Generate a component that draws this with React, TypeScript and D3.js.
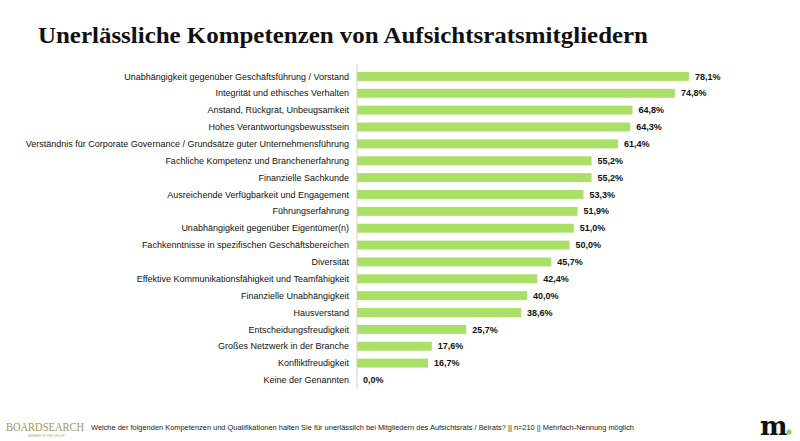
import React from "react";
import * as d3 from "d3";

const categories = [
  "Unabhängigkeit gegenüber Geschäftsführung / Vorstand",
  "Integrität und ethisches Verhalten",
  "Anstand, Rückgrat, Unbeugsamkeit",
  "Hohes Verantwortungsbewusstsein",
  "Verständnis für Corporate Governance / Grundsätze guter Unternehmensführung",
  "Fachliche Kompetenz und Branchenerfahrung",
  "Finanzielle Sachkunde",
  "Ausreichende Verfügbarkeit und Engagement",
  "Führungserfahrung",
  "Unabhängigkeit gegenüber Eigentümer(n)",
  "Fachkenntnisse in spezifischen Geschäftsbereichen",
  "Diversität",
  "Effektive Kommunikationsfähigkeit und Teamfähigkeit",
  "Finanzielle Unabhängigkeit",
  "Hausverstand",
  "Entscheidungsfreudigkeit",
  "Großes Netzwerk in der Branche",
  "Konfliktfreudigkeit",
  "Keine der Genannten",
];
const values = [78.1, 74.8, 64.8, 64.3, 61.4, 55.2, 55.2, 53.3, 51.9, 51.0, 50.0, 45.7, 42.4, 40.0, 38.6, 25.7, 17.6, 16.7, 0.0];

const title = "Unerlässliche Kompetenzen von Aufsichtsratsmitgliedern";
const footnote =
  "Welche der folgenden Kompetenzen und Qualifikationen halten Sie für unerlässlich bei Mitgliedern des Aufsichtsrats / Beirats? || n=210 || Mehrfach-Nennung möglich";

export default function App() {
  const W = 800, H = 441;
  const x0 = 357;
  const x = d3.scaleLinear().domain([0, 100]).range([x0, x0 + 425]);
  const y = d3.scaleBand<string>().domain(categories).range([68, 388.4]).paddingInner(0.47).paddingOuter(0.235);
  const fmt = (v: number) => v.toFixed(1).replace(".", ",") + "%";
  return (
    <svg width={W} height={H} style={{ position: "absolute", left: 0, top: 0, background: "#fff" }}>
      <rect width={W} height={H} fill="#fff" />
      <text x={38} y={43} fontFamily="'Liberation Serif', serif" fontWeight="bold" fontSize={23} fill="#111" textLength={610} lengthAdjust="spacingAndGlyphs">
        {title}
      </text>
      {categories.map((c, i) => {
        const yy = y(c)!;
        const bw = y.bandwidth();
        return (
          <g key={c}>
            <text x={349} y={yy + bw / 2} dy="0.35em" textAnchor="end" fontFamily="'Liberation Sans', Arial, sans-serif" fontSize={9} fill="#111">
              {c}
            </text>
            <rect x={x(0)} y={yy} width={x(values[i]) - x(0)} height={bw} fill="#a9e065" />
            <text x={x(values[i]) + 6} y={yy + bw / 2} dy="0.35em" fontFamily="'Liberation Sans', Arial, sans-serif" fontWeight="bold" fontSize={9} fill="#111">
              {fmt(values[i])}
            </text>
          </g>
        );
      })}
      <line x1={x0} x2={x0} y1={64} y2={389} stroke="#d0d0d0" strokeWidth={1} />
      <text x={6} y={431} fontFamily="'Liberation Serif', serif" fontSize={13} fill="#a8925c" textLength={78} lengthAdjust="spacingAndGlyphs">
        BOARDSEARCH
      </text>
      <text x={28} y={437} fontFamily="'Liberation Sans', sans-serif" fontSize={3} fill="#b8a77a">
        MEMBER OF THE GROUP
      </text>
      <text x={91} y={430} fontFamily="'Liberation Sans Narrow', 'Liberation Sans', sans-serif" fontSize={7.5} fill="#222" textLength={543} lengthAdjust="spacingAndGlyphs">
        {footnote}
      </text>
      <text x={760} y={435} fontFamily="'DejaVu Serif', serif" fontWeight="bold" fontSize={26} fill="#111">
        m
      </text>
      <circle cx={789} cy={432} r={2.5} fill="#8fd14f" />
    </svg>
  );
}
